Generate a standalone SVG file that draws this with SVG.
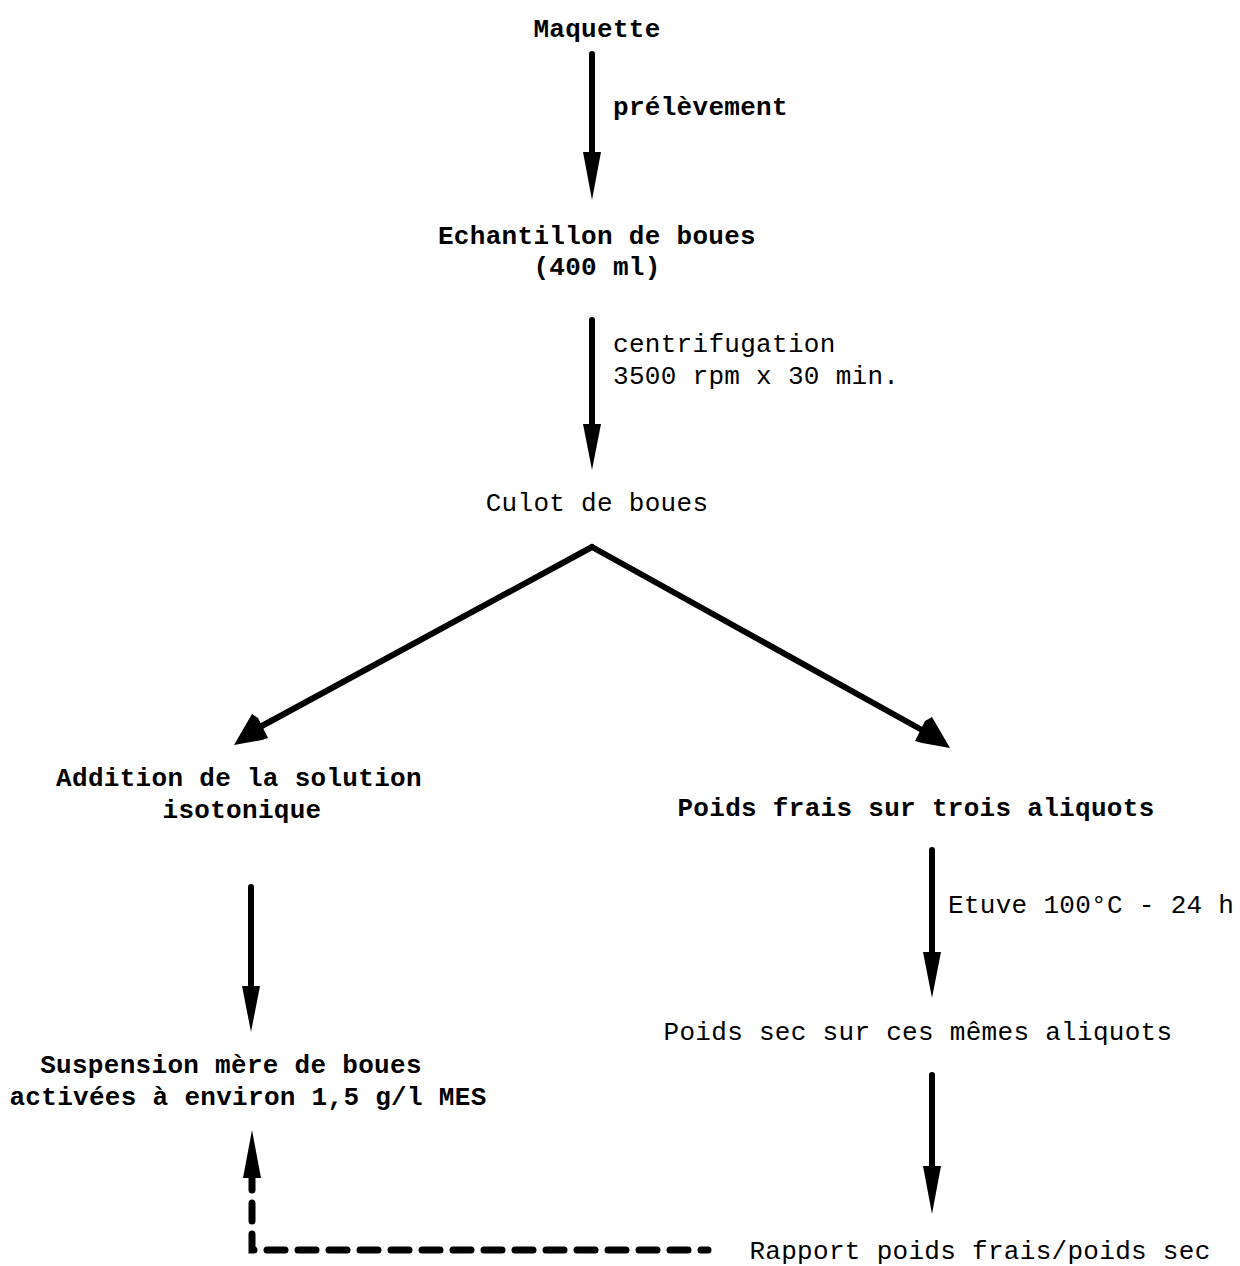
<svg xmlns="http://www.w3.org/2000/svg" width="1240" height="1266" viewBox="0 0 1240 1266">
<style>
text{font-family:"Liberation Mono","DejaVu Sans Mono",monospace;font-size:26px;letter-spacing:0.3px;fill:#000}
.b{font-weight:bold}
.m{text-anchor:middle}
.sh{stroke:#000;stroke-width:6;fill:none;stroke-linecap:round}
.hd{fill:#000}
.dash{stroke:#000;stroke-width:7;fill:none;stroke-dasharray:18 13;stroke-linecap:round}
</style>
<rect width="1240" height="1266" fill="#fff"/>
<g id="n-maquette"><text class="b m" x="597" y="37">Maquette</text></g>
<g id="n-echantillon"><text class="b m" x="597" y="244">Echantillon de boues</text><text class="b m" x="597" y="275">(400 ml)</text></g>
<g id="n-culot"><text class="m" x="597" y="511">Culot de boues</text></g>
<g id="n-addition"><text class="b m" x="239" y="786">Addition de la solution</text><text class="b m" x="242" y="818">isotonique</text></g>
<g id="n-poidsfrais"><text class="b m" x="916" y="816">Poids frais sur trois aliquots</text></g>
<g id="n-suspension"><text class="b m" x="231" y="1073">Suspension mère de boues</text><text class="b m" x="248" y="1105">activées à environ 1,5 g/l MES</text></g>
<g id="n-poidssec"><text class="m" x="918" y="1040">Poids sec sur ces mêmes aliquots</text></g>
<g id="n-rapport"><text class="m" x="980" y="1259">Rapport poids frais/poids sec</text></g>
<g id="connectors">
<path class="sh" d="M592,54 V158"/><path class="hd" d="M583,152 L592,200 L601,152 Z"/>
<path class="sh" d="M592,320 V430"/><path class="hd" d="M583,424 L592,470 L601,424 Z"/>
<path class="sh" d="M592,547 L260,727" stroke-width="7"/>
<path class="hd" d="M234,745 L252,714 L258,718 L268,738 L262,740 Z"/>
<path class="sh" d="M592,547 L922,730" stroke-width="7"/>
<path class="hd" d="M950,748 L932,717 L925,721 L915,741 L922,743 Z"/>
<path class="sh" d="M251,887 V992"/><path class="hd" d="M242,986 L251,1032 L260,986 Z"/>
<path class="sh" d="M932,850 V958"/><path class="hd" d="M923,952 L932,998 L941,952 Z"/>
<path class="sh" d="M932,1075 V1172"/><path class="hd" d="M923,1166 L932,1214 L941,1166 Z"/>
<path class="hd" d="M243,1178 L252,1130 L261,1178 Z"/>
<path class="dash" d="M252,1172 V1250 H708"/>
</g>
<g id="edge-labels">
<text x="613" y="115" class="b">prélèvement</text>
<text x="613" y="352">centrifugation</text>
<text x="613" y="384">3500 rpm x 30 min.</text>
<text x="948" y="913">Etuve 100°C - 24 h</text>
</g>
</svg>
